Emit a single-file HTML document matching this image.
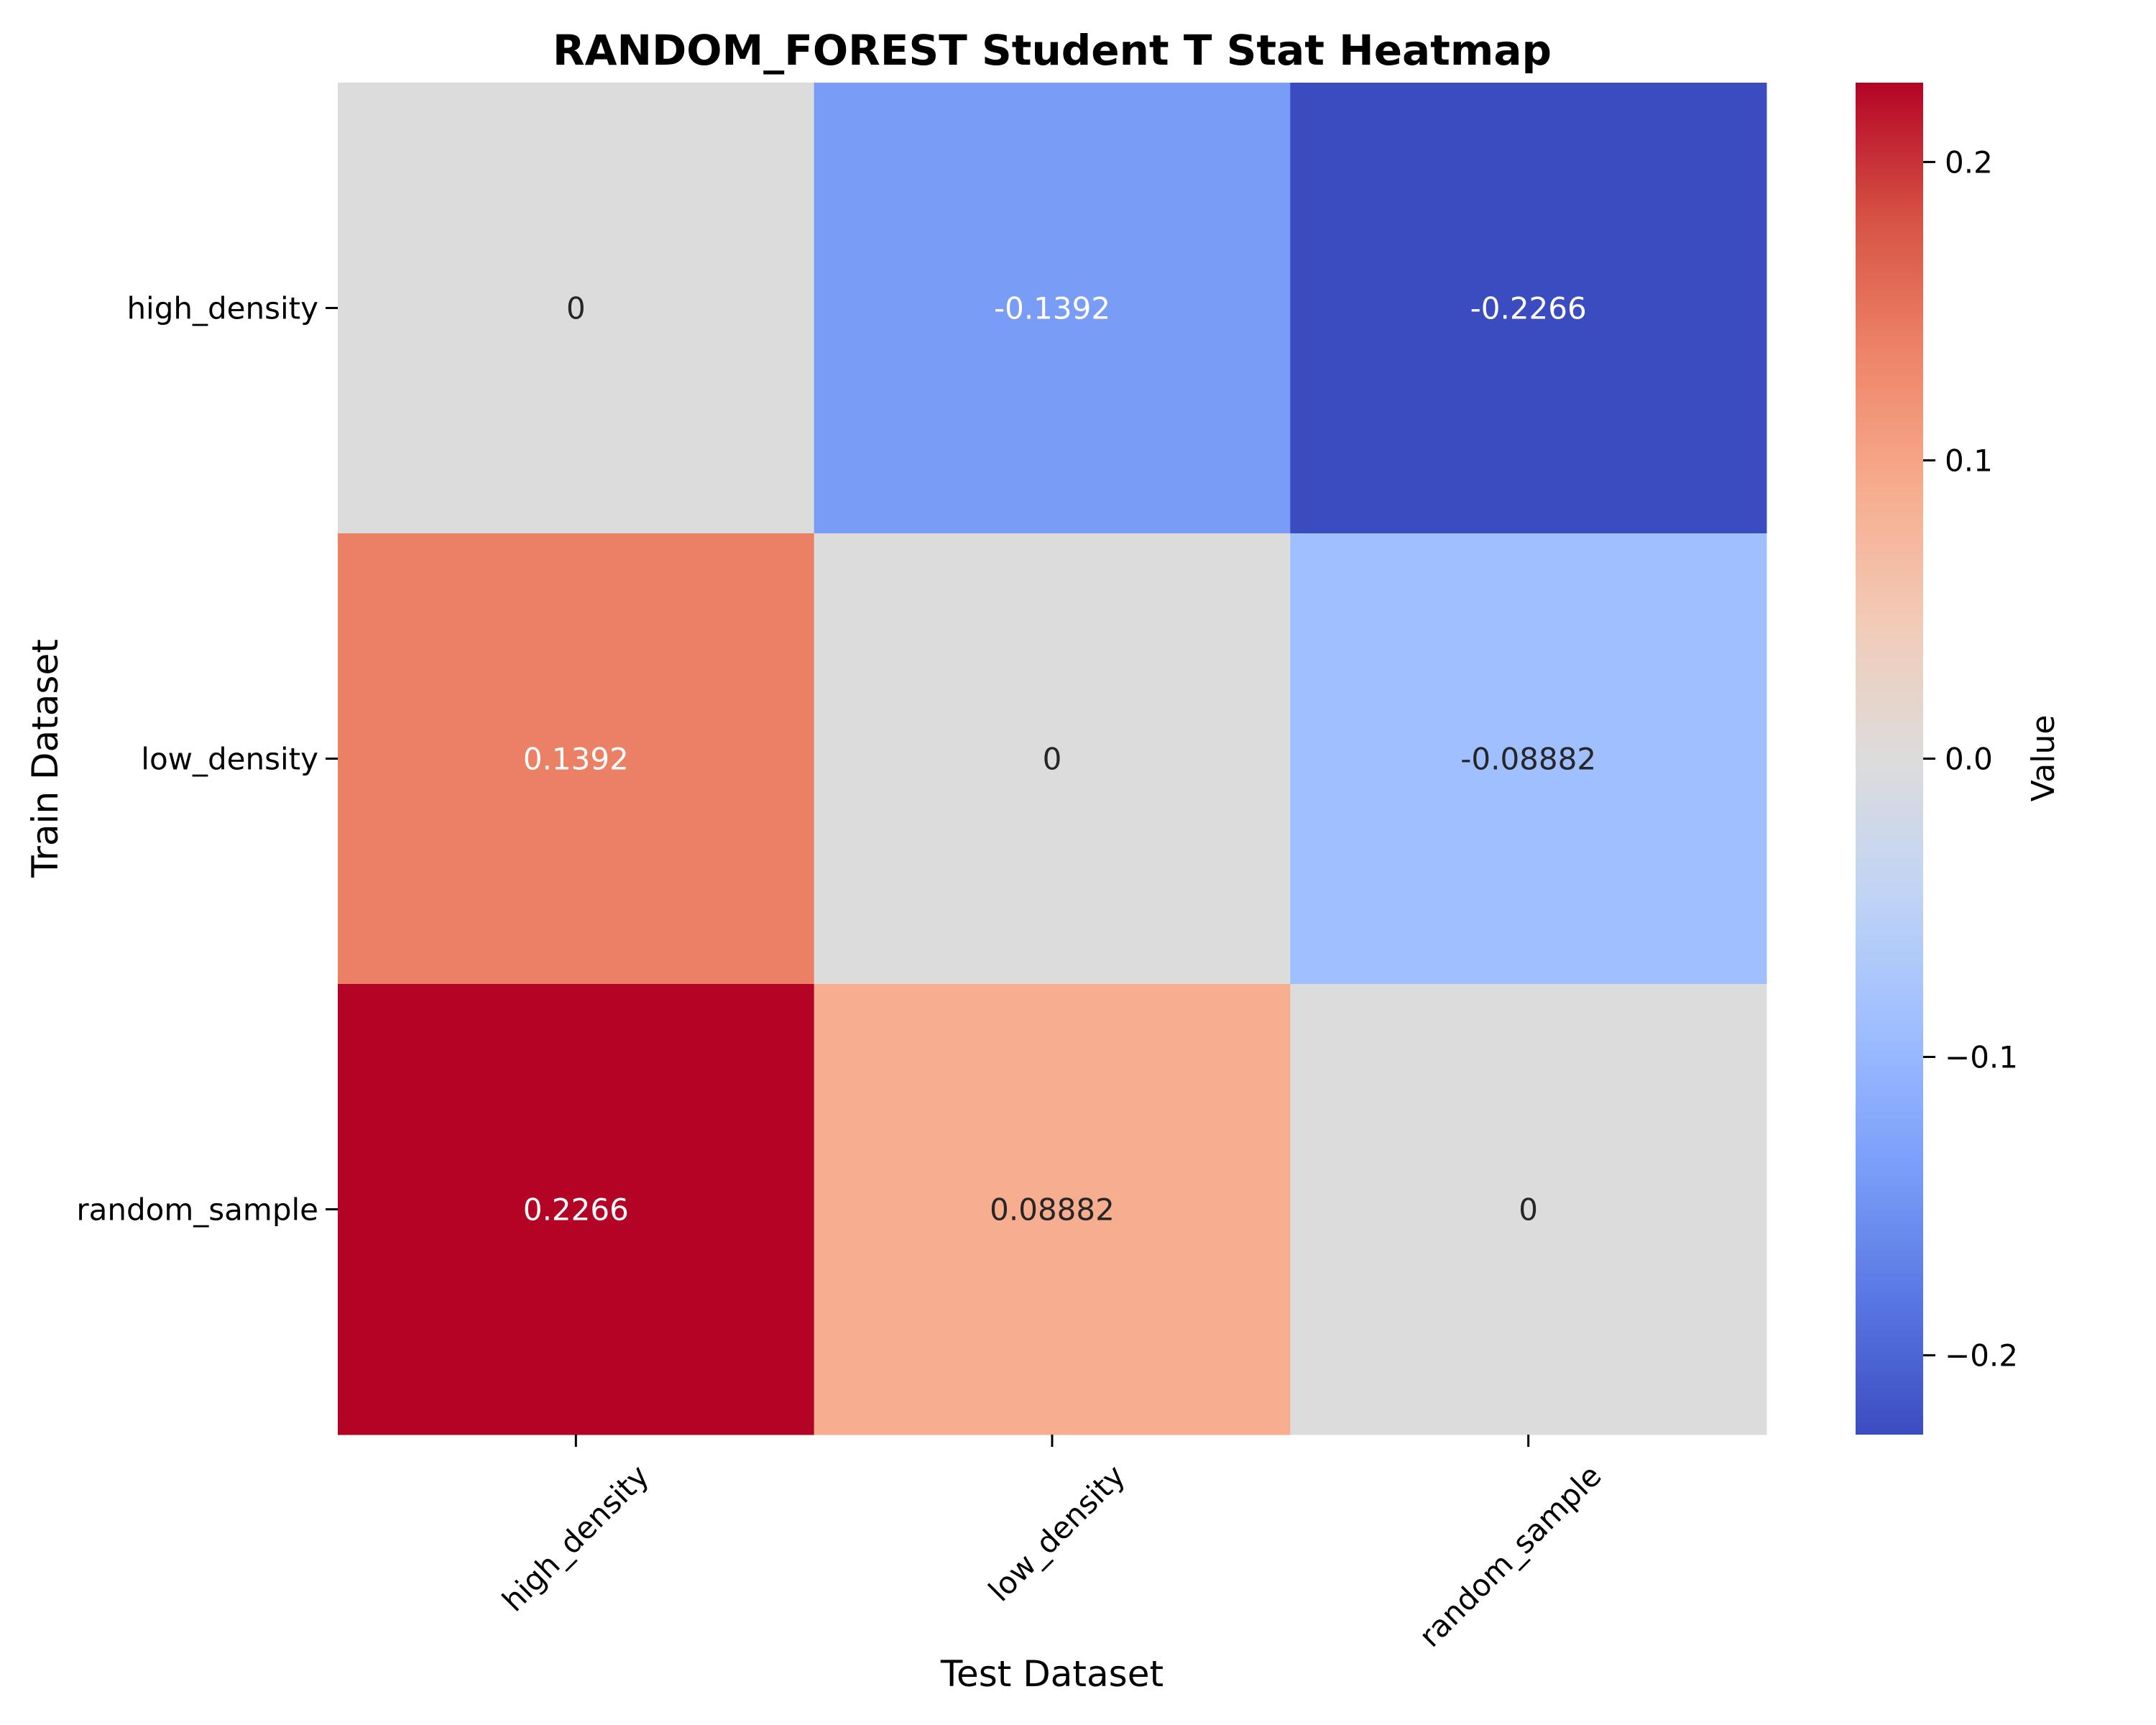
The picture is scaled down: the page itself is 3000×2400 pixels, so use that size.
<!DOCTYPE html>
<html><head><meta charset="utf-8"><style>
html,body{margin:0;padding:0;background:#fff;}
svg{display:block;font-family:"DejaVu Sans","Liberation Sans",sans-serif;}
</style></head><body>
<svg id="chart" width="3000" height="2400" viewBox="0 0 3000 2400" xmlns="http://www.w3.org/2000/svg">
<defs>
<linearGradient id="cw" x1="0" y1="1" x2="0" y2="0">
<stop offset="0" stop-color="#3b4cc0"/><stop offset="0.1" stop-color="#5977e3"/><stop offset="0.2" stop-color="#7b9ff9"/><stop offset="0.3" stop-color="#9ebeff"/><stop offset="0.4" stop-color="#c0d4f5"/><stop offset="0.5" stop-color="#dddcdc"/><stop offset="0.6" stop-color="#f2cbb7"/><stop offset="0.7" stop-color="#f7ac8e"/><stop offset="0.8" stop-color="#ee8468"/><stop offset="0.9" stop-color="#d65244"/><stop offset="1" stop-color="#b40426"/>
</linearGradient>
</defs>
<text x="1464" y="90" text-anchor="middle" font-size="58" font-weight="bold">RANDOM_FOREST Student T Stat Heatmap</text>
<g id="cells"></g>
<g id="axes"></g>
<rect x="2582" y="115" width="94" height="1881" fill="url(#cw)"/>
<g id="cbticks"></g>
<text x="0" y="0" transform="translate(2858,1055) rotate(-90)" text-anchor="middle" font-size="44">Value</text>
<text x="1464" y="2346" text-anchor="middle" font-size="50">Test Dataset</text>
<text x="0" y="0" transform="translate(80,1055) rotate(-90)" text-anchor="middle" font-size="50">Train Dataset</text>
</svg>
<script>
const rowLabels = ["high_density", "low_density", "random_sample"];
const colLabels = ["high_density", "low_density", "random_sample"];
const values = [
  [0, -0.1392, -0.2266],
  [0.1392, 0, -0.08882],
  [0.2266, 0.08882, 0]
];
const valueLabels = [
  ["0", "-0.1392", "-0.2266"],
  ["0.1392", "0", "-0.08882"],
  ["0.2266", "0.08882", "0"]
];
const cbTicks = [-0.2, -0.1, 0.0, 0.1, 0.2];
const cbTickLabels = ["\u22120.2", "\u22120.1", "0.0", "0.1", "0.2"];
const vmin = -0.2266, vmax = 0.2266;

const NS = "http://www.w3.org/2000/svg";
const L = 470, R = 2458, T = 115, B = 1996;
const cw = (R - L) / colLabels.length, ch = (B - T) / rowLabels.length;
const xScale = i => L + i * cw;
const yScale = j => T + j * ch;
const cbY = v => B - (v - vmin) / (vmax - vmin) * (B - T);
const stops = [[59,76,192],[89,119,227],[123,159,249],[158,190,255],[192,212,245],[221,220,220],[242,203,183],[247,172,142],[238,132,104],[214,82,68],[180,4,38]];
function cmap(v){
  let t = Math.max(0, Math.min(1, (v - vmin) / (vmax - vmin))) * 10;
  let i = Math.min(9, Math.floor(t)), f = t - i;
  return stops[i].map((c,k)=>Math.round(c + (stops[i+1][k]-c)*f));
}
function lum(c){
  const l = c.map(x=>{x/=255;return x<=0.03928?x/12.92:Math.pow((x+0.055)/1.055,2.4);});
  return 0.2126*l[0]+0.7152*l[1]+0.0722*l[2];
}
function mk(tag, attrs, parent){
  const e = document.createElementNS(NS, tag);
  for (const k in attrs) e.setAttribute(k, attrs[k]);
  parent.appendChild(e); return e;
}
const cells = document.getElementById("cells");
const axes = document.getElementById("axes");
for (let r = 0; r < rowLabels.length; r++) {
  for (let c = 0; c < colLabels.length; c++) {
    const col = cmap(values[r][c]);
    const rect = mk("rect", {x: xScale(c), y: yScale(r), width: cw + 0.5, height: ch + 0.5, fill: `rgb(${col.join(",")})`}, cells);
    
    
    const t = mk("text", {x: xScale(c) + cw/2, y: yScale(r) + ch/2 + 15, "text-anchor": "middle", "font-size": "42", fill: lum(col) > 0.408 ? "#262626" : "#ffffff"}, cells);
    t.textContent = valueLabels[r][c];
    
    
  }
}
rowLabels.forEach((lab, j) => {
  const y = yScale(j) + ch/2;
  const tk = mk("line", {x1: L - 17, x2: L, y1: y, y2: y, stroke: "#000", "stroke-width": 3}, axes);
  
  
  const t = mk("text", {x: L - 27, y: y + 15, "text-anchor": "end", "font-size": "42"}, axes);
  t.textContent = lab;
  
  
});
colLabels.forEach((lab, i) => {
  const x = xScale(i) + cw/2;
  const tk = mk("line", {x1: x, x2: x, y1: B, y2: B + 17, stroke: "#000", "stroke-width": 3}, axes);
  
  
  const t = mk("text", {x: 0, y: 0, transform: `translate(${x + 104},${B + 60}) rotate(-45)`, "text-anchor": "end", "font-size": "42"}, axes);
  t.textContent = lab;
  
  
});
const cbg = document.getElementById("cbticks");
cbTicks.forEach((v, k) => {
  const y = cbY(v);
  const tk = mk("line", {x1: 2676, x2: 2693, y1: y, y2: y, stroke: "#000", "stroke-width": 3}, cbg);
  
  
  const t = mk("text", {x: 2706, y: y + 15, "font-size": "42"}, cbg);
  t.textContent = cbTickLabels[k];
  
  
});
</script>
</body></html>
